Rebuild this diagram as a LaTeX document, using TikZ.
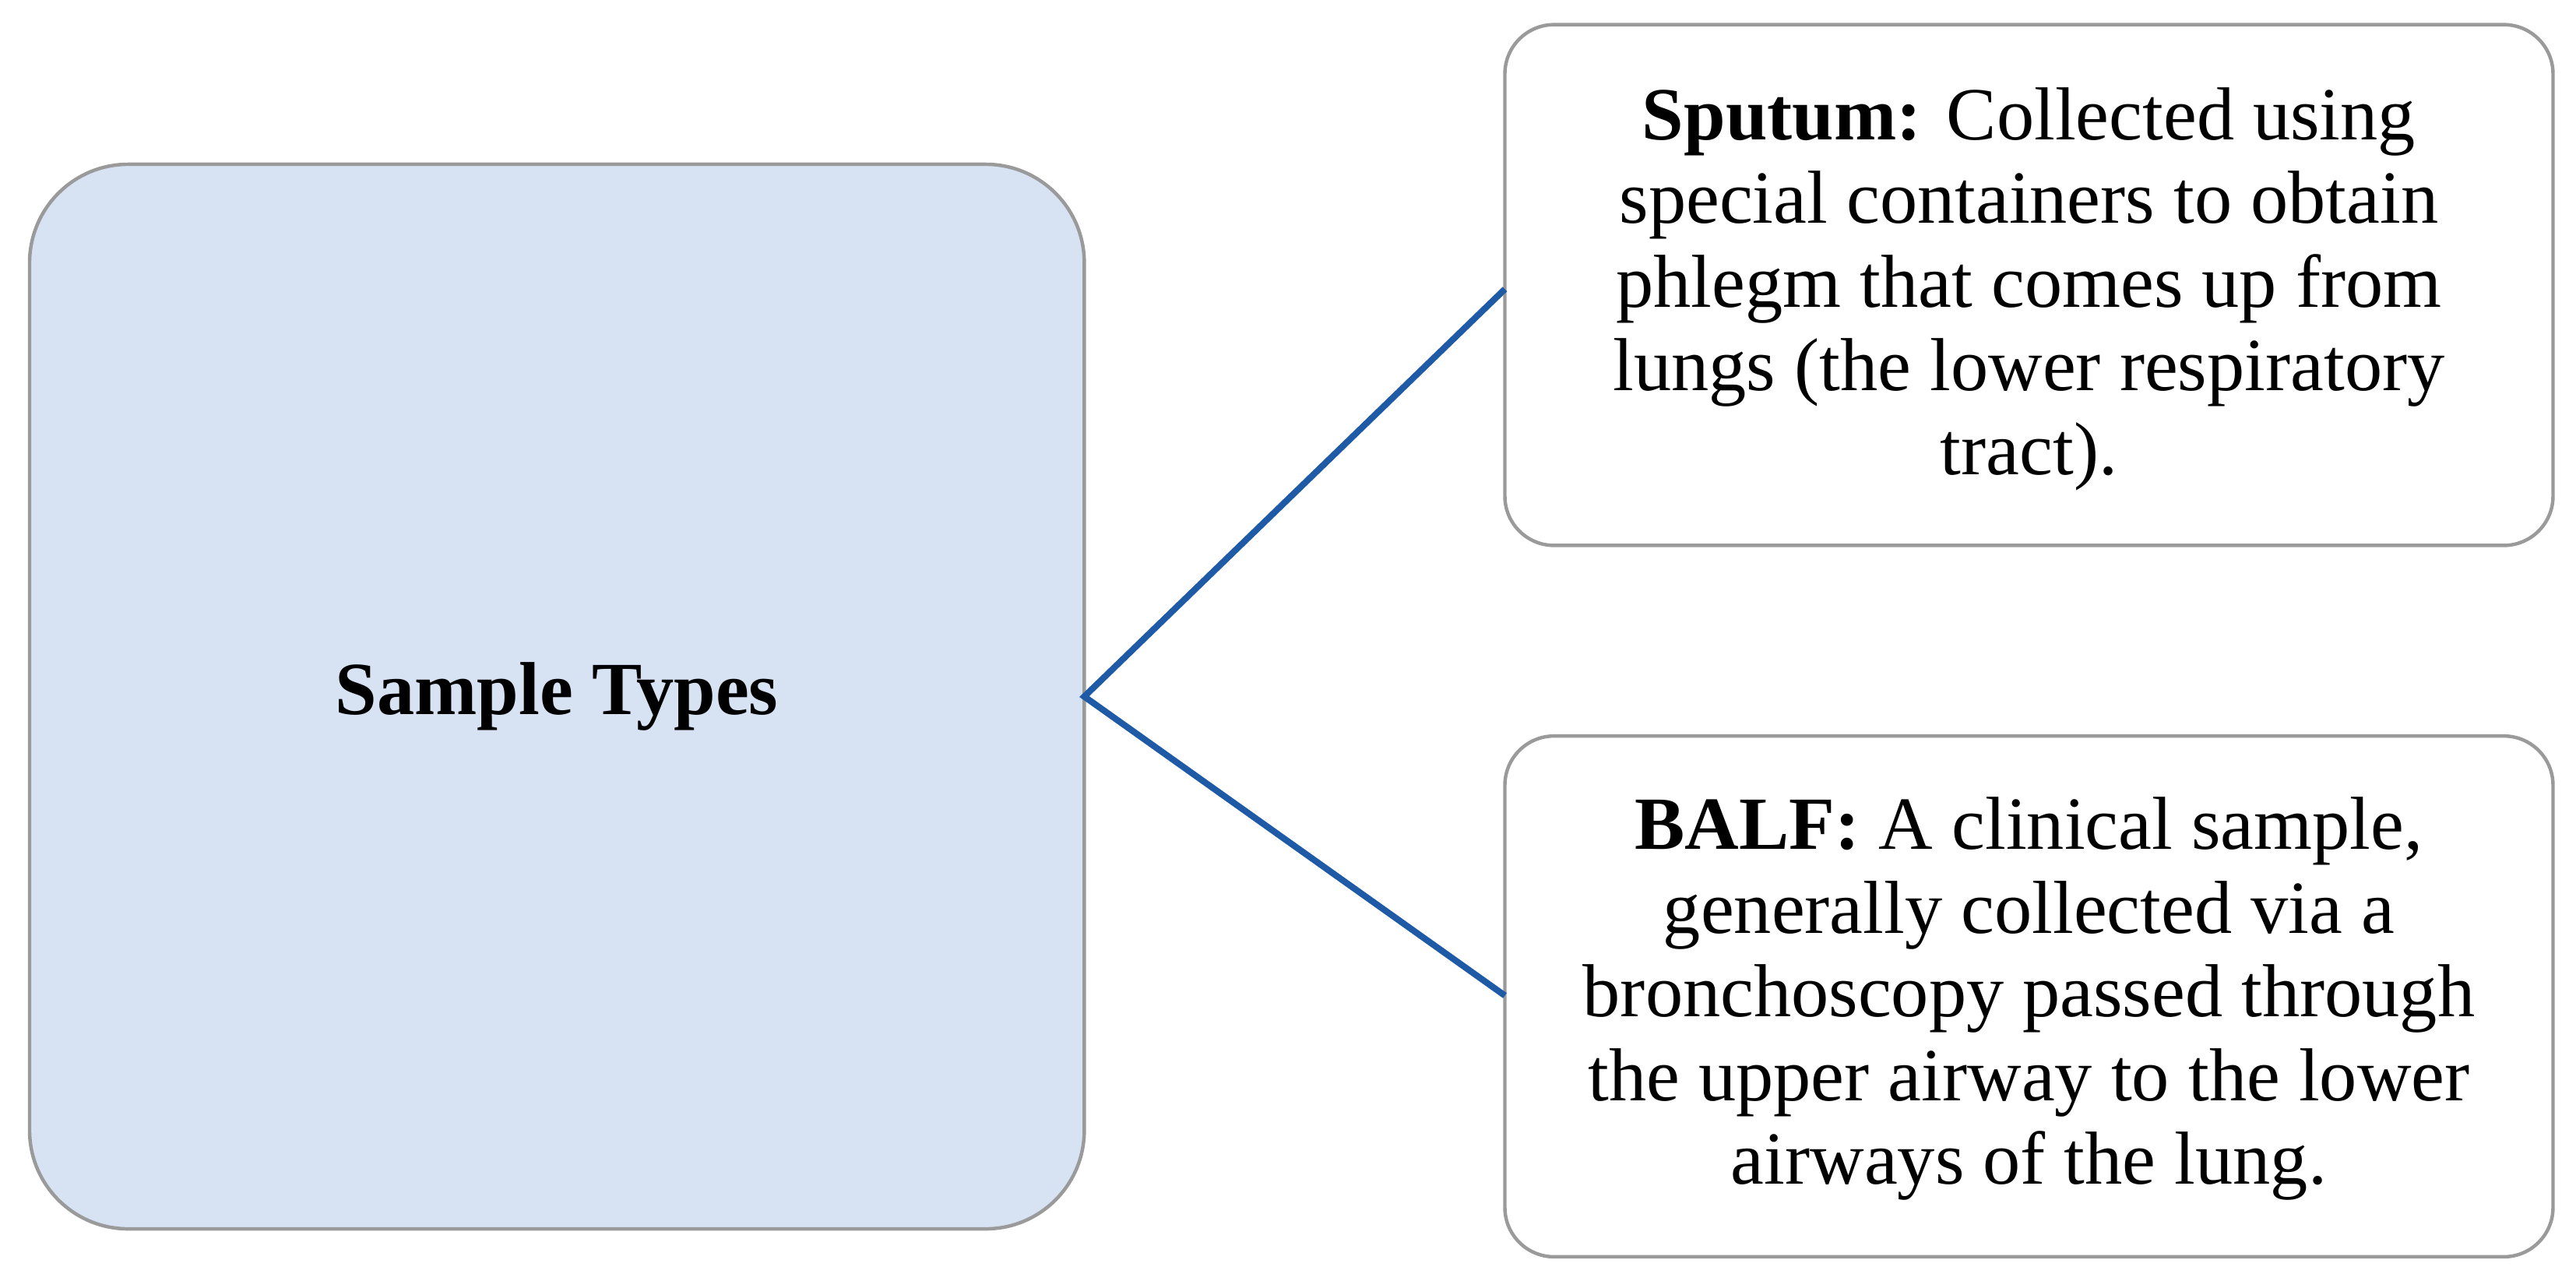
\documentclass[tikz,border=0pt]{standalone}
\usepackage{fontspec}
\setmainfont{Liberation Serif}
\usetikzlibrary{positioning}
\definecolor{boxblue}{HTML}{D7E3F3}
\definecolor{edgegray}{HTML}{9A9A9A}
\definecolor{linkblue}{HTML}{1F5AA6}
\tikzset{
  box/.style={draw=edgegray, line width=1.2pt, rounded corners=0.6cm},
  txt/.style={align=center, font=\fontsize{26}{29}\selectfont, inner sep=0pt},
  link/.style={draw=linkblue, line width=2.2pt}
}
\begin{document}
\begin{tikzpicture}[x=0.02cm,y=-0.02cm]
		\useasboundingbox (0,0) rectangle (1568,784);
		\draw[box, fill=boxblue, rounded corners=1.2cm] (18,100) rectangle (660,748);
		\draw[box] (916,15) rectangle (1554,332);
		\draw[box] (916,448) rectangle (1554,765);
		
		\node[txt] (types) at (339,424) {\textbf{Sample Types}};
		\node[txt] (sputum) at (1235,176) {\textbf{Sputum:} Collected using\\special containers to obtain\\phlegm that comes up from\\lungs (the lower respiratory\\tract).};
		\node[txt] (balf) at (1235,608) {\textbf{BALF:} A clinical sample,\\generally collected via a\\bronchoscopy passed through\\the upper airway to the lower\\airways of the lung.};
		
		\coordinate (hub) at (660,424);
		\coordinate (top) at (916,176);
		\coordinate (bot) at (916,606);
		\draw[link] (top) -- (hub) -- (bot);
	\end{tikzpicture}
\end{document}
